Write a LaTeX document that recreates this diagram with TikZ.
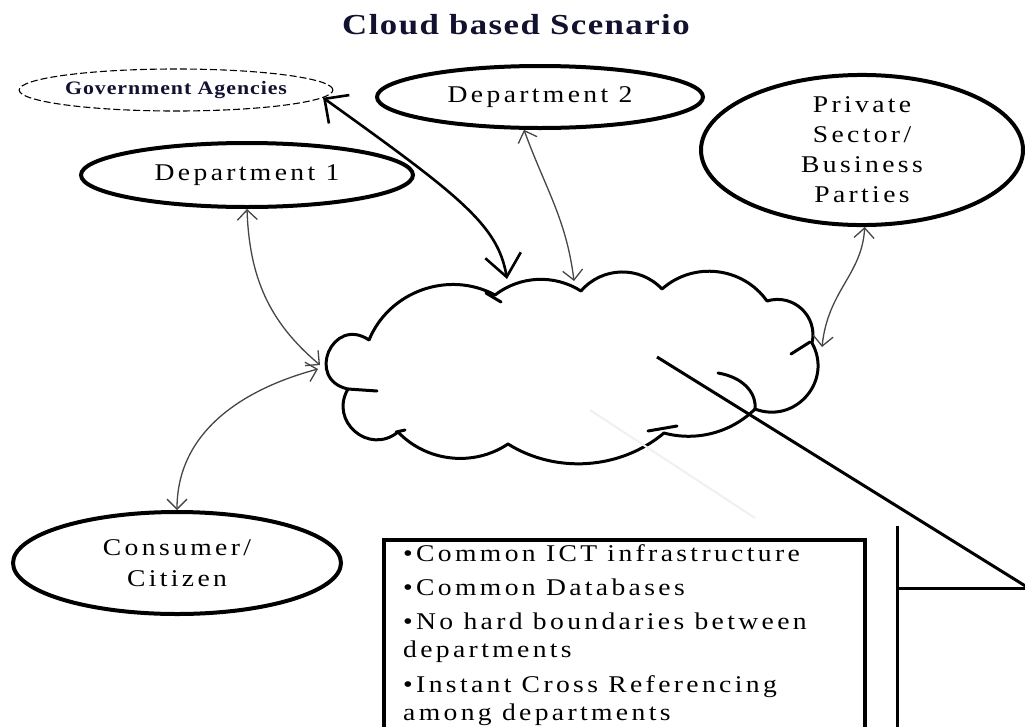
\documentclass[tikz,border=0pt]{standalone}
\usepackage{fontspec}
\setmainfont{Liberation Serif}
\newfontfamily\bodyserif[FakeStretch=1.15, LetterSpace=14]{Liberation Serif}
\newfontfamily\titleserif[FakeStretch=1.2, LetterSpace=5]{Liberation Serif}
\newfontfamily\govserif[FakeStretch=1.15, LetterSpace=5]{Liberation Serif}
\usetikzlibrary{arrows.meta,shapes.geometric}
\definecolor{inkblue}{RGB}{18,18,48}
\definecolor{linkgray}{RGB}{70,70,70}

\tikzset{
  party/.style={ellipse, draw=black, line width=4pt, inner sep=0pt, align=center,
    font=\bodyserif\fontsize{24}{30}\selectfont},
  link/.style={draw=linkgray, line width=1.3pt,
    {Straight Barb[length=10pt,width=20pt]}-{Straight Barb[length=10pt,width=20pt]}},
  govlink/.style={draw=black, line width=2.6pt,
    {Straight Barb[length=18pt,width=35pt]}-{Straight Barb[length=22pt,width=36pt]}},
  cloudline/.style={line width=3pt, line cap=round, line join=round},
  calloutline/.style={line width=3pt},
}

\begin{document}
\begin{tikzpicture}[x=1pt,y=1pt]
\useasboundingbox (0,0) rectangle (1025,-726);
\fill[white] (0,0) rectangle (1025,-726);
\clip (0,0) rectangle (1025,-726);

% heading
\node[font=\titleserif\bfseries\fontsize{29}{34}\selectfont, text=inkblue, anchor=base]
  (title) at (516,-34) {Cloud based Scenario};

% stakeholders
\node[ellipse, draw, dash pattern=on 7pt off 3pt, line width=1.1pt,
  minimum width=312pt, minimum height=42pt, inner sep=0pt,
  font=\govserif\bfseries\fontsize{19}{21}\selectfont, text=inkblue]
  (gov) at (176,-90) {Government Agencies};
\node[party, minimum width=326pt, minimum height=62pt] (d2) at (540,-97) {Department 2};
\node[party, minimum width=332pt, minimum height=64pt] (d1) at (247,-175) {Department 1};
\node[party, minimum width=322pt, minimum height=140pt] (pr) at (862,-150)
  {Private\\Sector/\\Business\\Parties};
\node[party, minimum width=328pt, minimum height=102pt,
  font=\bodyserif\fontsize{24}{31}\selectfont] (con) at (177,-563) {Consumer/\\Citizen};

% the cloud outline
\draw[cloudline] (369,-340)
  to[bend left=48, looseness=1.01] (495,-295)
  to[bend left=35, looseness=0.94] (581,-291)
  to[bend left=48, looseness=1.02] (662,-289)
  to[bend left=48, looseness=1.02] (767,-301)
  to[bend left=60, looseness=1.14] (812,-343)
  to[bend left=70, looseness=1.27] (755,-409)
  to[bend left=30, looseness=0.91] (664,-433)
  to[bend left=36, looseness=0.93] (508,-444)
  to[bend left=40, looseness=0.96] (398,-432)
  to[bend left=80, looseness=1.45] (348,-389)
  to[bend left=101, looseness=2.12] (369,-340);
% inner strokes of the cloud
\draw[cloudline] (486,-293) -- (501,-302);
\draw[cloudline] (810,-342) -- (791,-354);
\draw[cloudline] (348,-389) -- (377,-391);
\draw[cloudline] (396,-432) -- (405,-430);
\draw[cloudline] (648,-431) -- (677,-426);
\draw[cloudline] (718,-373) .. controls (742,-377) and (757,-392) .. (755,-410);

% attachment points on the cloud
\coordinate (cl-d1) at (320,-365);
\coordinate (cl-con) at (318,-369);
\coordinate (cl-gov) at (507,-279);
\coordinate (cl-d2) at (574,-281);
\coordinate (cl-pr) at (822,-347);
\coordinate (cl-call) at (657,-357);

% faint trace
\draw[gray!12, line width=2pt] (590,-410) -- (755,-518);

% links
\draw[link] (d1.south) to[out=-88, in=140] (cl-d1);
\draw[link] (cl-con) to[out=195, in=90] (con.north);
\draw[link] (d2.244) to[out=-70, in=97] (cl-d2);
\draw[link] (pr.-88) .. controls (862,-275) and (828,-290) .. (cl-pr);
\draw[govlink] (gov.-3) .. controls (460,-196) and (498,-225) .. (cl-gov);

% callout
\coordinate (call-end) at (1027,-587);
\coordinate (call-top) at (897,-526);
\coordinate (call-bottom) at (897,-730);
\coordinate (call-right) at (1030,-588);
\draw[calloutline] (cl-call) -- (call-end);
\draw[calloutline] (call-top) -- (call-bottom);
\draw[calloutline] (call-top |- call-right) -- (call-right);

% summary box
\node[draw, line width=4pt, minimum width=481pt, minimum height=210pt,
  anchor=north west, inner sep=0pt] (notes) at (382,-538) {};
\node[anchor=base west, align=left, inner sep=0pt,
  font=\bodyserif\fontsize{24}{28}\selectfont] (notetext) at (403,-720)
  {\textbullet Common ICT infrastructure\\[6pt]
   \textbullet Common Databases\\[6pt]
   \textbullet No hard boundaries between\\
   departments\\[7pt]
   \textbullet Instant Cross Referencing\\
   among departments};
\end{tikzpicture}
\end{document}
